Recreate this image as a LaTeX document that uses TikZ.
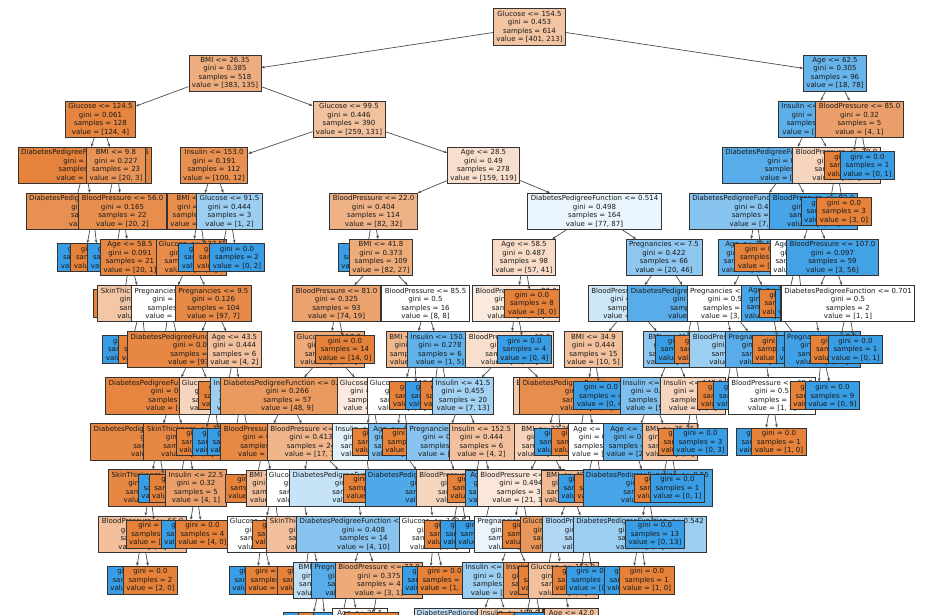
\documentclass[tikz,border=0pt]{standalone}
\usepackage{fontspec}
\setmainfont{DejaVu Sans}
\usetikzlibrary{arrows.meta}
\definecolor{cls0}{RGB}{229,129,57}
\definecolor{cls1}{RGB}{57,157,229}
\newcommand{\pure}[2]{gini = 0.0\\samples = #1\\value = [#2]}
\tikzset{
	split/.style={draw=black!80, line width=0.8pt, align=center, inner xsep=3pt, inner ysep=2.3pt, text=black!90, font=\fontsize{7}{8.5}\selectfont},
	edge/.style={draw=black!70, line width=0.7pt, -{Stealth[length=3.4pt,width=2.8pt]}},
}
\begin{document}
\begin{tikzpicture}[x=1pt, y=-1pt]
	\useasboundingbox (0,0) rectangle (936,614);
	\fill[white] (0,0) rectangle (936,614);
	\clip (0,0) rectangle (936,614);
	\node[split, fill=cls0!47] (n0) at (529.5,27) {Glucose <= 154.5\\gini = 0.453\\samples = 614\\value = [401, 213]};
	\node[split, fill=cls0!65] (n1) at (225,73.1) {BMI <= 26.35\\gini = 0.385\\samples = 518\\value = [383, 135]};
	\draw[edge] (n0) -- (n1);
	\node[split, fill=cls1!77] (n2) at (835,73.1) {Age <= 62.5\\gini = 0.305\\samples = 96\\value = [18, 78]};
	\draw[edge] (n0) -- (n2);
	\node[split, fill=cls0!97] (n3) at (100.5,119.2) {Glucose <= 124.5\\gini = 0.061\\samples = 128\\value = [124, 4]};
	\draw[edge] (n1) -- (n3);
	\node[split, fill=cls0!49] (n4) at (349,119.2) {Glucose <= 99.5\\gini = 0.446\\samples = 390\\value = [259, 131]};
	\draw[edge] (n1) -- (n4);
	\node[split, fill=cls1!82] (n5) at (811,119.2) {Insulin <= 291.5\\gini = 0.26\\samples = 91\\value = [14, 77]};
	\draw[edge] (n2) -- (n5);
	\node[split, fill=cls0!75] (n6) at (859.5,119.2) {BloodPressure <= 85.0\\gini = 0.32\\samples = 5\\value = [4, 1]};
	\draw[edge] (n2) -- (n6);
	\node[split, fill=cls0!99] (n7) at (85,165.3) {DiabetesPedigreeFunction <= 1.295\\gini = 0.019\\samples = 105\\value = [104, 1]};
	\draw[edge] (n3) -- (n7);
	\node[split, fill=cls0!85] (n8) at (116,165.3) {BMI <= 9.8\\gini = 0.227\\samples = 23\\value = [20, 3]};
	\draw[edge] (n3) -- (n8);
	\node[split, fill=cls0!88] (n9) at (214,165.3) {Insulin <= 153.0\\gini = 0.191\\samples = 112\\value = [100, 12]};
	\draw[edge] (n4) -- (n9);
	\node[split, fill=cls0!25] (n10) at (483.5,165.3) {Age <= 28.5\\gini = 0.49\\samples = 278\\value = [159, 119]};
	\draw[edge] (n4) -- (n10);
	\node[split, fill=cls1!85] (n11) at (789,165.3) {DiabetesPedigreeFunction <= 1.272\\gini = 0.223\\samples = 86\\value = [11, 75]};
	\draw[edge] (n5) -- (n11);
	\node[split, fill=cls0!33] (n12) at (836.5,165.3) {BloodPressure <= 79.0\\gini = 0.48\\samples = 5\\value = [3, 2]};
	\draw[edge] (n5) -- (n12);
	\node[split, fill=cls0] (n13) at (851.5,165.3) {\pure{4}{4, 0}};
	\draw[edge] (n6) -- (n13);
	\node[split, fill=cls1] (n14) at (867.5,165.3) {\pure{1}{0, 1}};
	\draw[edge] (n6) -- (n14);
	\node[split, fill=cls0] (n15) at (73,211.4) {\pure{96}{96, 0}};
	\draw[edge] (n7) -- (n15);
	\node[split, fill=cls0!88] (n16) at (93,211.4) {DiabetesPedigreeFunction <= 0.174\\gini = 0.198\\samples = 9\\value = [8, 1]};
	\draw[edge] (n7) -- (n16);
	\node[split, fill=cls1] (n17) at (106,211.4) {\pure{1}{0, 1}};
	\draw[edge] (n8) -- (n17);
	\node[split, fill=cls0!90] (n18) at (122.5,211.4) {BloodPressure <= 56.0\\gini = 0.165\\samples = 22\\value = [20, 2]};
	\draw[edge] (n8) -- (n18);
	\node[split, fill=cls0!90] (n19) at (199,211.4) {BMI <= 45.4\\gini = 0.167\\samples = 109\\value = [99, 10]};
	\draw[edge] (n9) -- (n19);
	\node[split, fill=cls1!50] (n20) at (229.5,211.4) {Glucose <= 91.5\\gini = 0.444\\samples = 3\\value = [1, 2]};
	\draw[edge] (n9) -- (n20);
	\node[split, fill=cls0!61] (n21) at (373.5,211.4) {BloodPressure <= 22.0\\gini = 0.404\\samples = 114\\value = [82, 32]};
	\draw[edge] (n10) -- (n21);
	\node[split, fill=cls1!11] (n22) at (594.5,211.4) {DiabetesPedigreeFunction <= 0.514\\gini = 0.498\\samples = 164\\value = [77, 87]};
	\draw[edge] (n10) -- (n22);
	\node[split, fill=cls1!61] (n23) at (756,211.4) {DiabetesPedigreeFunction <= 0.413\\gini = 0.403\\samples = 25\\value = [7, 18]};
	\draw[edge] (n11) -- (n23);
	\node[split, fill=cls1!93] (n24) at (813.5,211.4) {BloodPressure <= 92.0\\gini = 0.123\\samples = 61\\value = [4, 57]};
	\draw[edge] (n11) -- (n24);
	\node[split, fill=cls1] (n25) at (828.5,211.4) {\pure{2}{0, 2}};
	\draw[edge] (n12) -- (n25);
	\node[split, fill=cls0] (n26) at (844,211.4) {\pure{3}{3, 0}};
	\draw[edge] (n12) -- (n26);
	\node[split, fill=cls1] (n27) at (85,257.5) {\pure{1}{0, 1}};
	\draw[edge] (n16) -- (n27);
	\node[split, fill=cls0] (n28) at (98,257.5) {\pure{8}{8, 0}};
	\draw[edge] (n16) -- (n28);
	\node[split, fill=cls1] (n29) at (115,257.5) {\pure{1}{0, 1}};
	\draw[edge] (n18) -- (n29);
	\node[split, fill=cls0!95] (n30) at (130,257.5) {Age <= 58.5\\gini = 0.091\\samples = 21\\value = [20, 1]};
	\draw[edge] (n18) -- (n30);
	\node[split, fill=cls0!91] (n31) at (191,257.5) {Glucose <= 137.5\\gini = 0.153\\samples = 108\\value = [99, 9]};
	\draw[edge] (n19) -- (n31);
	\node[split, fill=cls1] (n32) at (206,257.5) {\pure{1}{0, 1}};
	\draw[edge] (n19) -- (n32);
	\node[split, fill=cls0] (n33) at (221,257.5) {\pure{1}{1, 0}};
	\draw[edge] (n20) -- (n33);
	\node[split, fill=cls1] (n34) at (237,257.5) {\pure{2}{0, 2}};
	\draw[edge] (n20) -- (n34);
	\node[split, fill=cls1] (n35) at (365.5,257.5) {\pure{5}{0, 5}};
	\draw[edge] (n21) -- (n35);
	\node[split, fill=cls0!67] (n36) at (381,257.5) {BMI <= 41.8\\gini = 0.373\\samples = 109\\value = [82, 27]};
	\draw[edge] (n21) -- (n36);
	\node[split, fill=cls0!28] (n37) at (524,257.5) {Age <= 58.5\\gini = 0.487\\samples = 98\\value = [57, 41]};
	\draw[edge] (n22) -- (n37);
	\node[split, fill=cls1!57] (n38) at (664,257.5) {Pregnancies <= 7.5\\gini = 0.422\\samples = 66\\value = [20, 46]};
	\draw[edge] (n22) -- (n38);
	\node[split, fill=cls1!78] (n39) at (748,257.5) {Age <= 29.5\\gini = 0.298\\samples = 22\\value = [4, 18]};
	\draw[edge] (n23) -- (n39);
	\node[split, fill=cls0] (n40) at (762,257.5) {\pure{3}{3, 0}};
	\draw[edge] (n23) -- (n40);
	\node[split, fill=white] (n41) at (797.5,257.5) {Age <= 44.5\\gini = 0.5\\samples = 2\\value = [1, 1]};
	\draw[edge] (n24) -- (n41);
	\node[split, fill=cls1!95] (n42) at (832.5,257.5) {BloodPressure <= 107.0\\gini = 0.097\\samples = 59\\value = [3, 56]};
	\draw[edge] (n24) -- (n42);
	\node[split, fill=cls0] (n43) at (123,303.6) {\pure{18}{18, 0}};
	\draw[edge] (n30) -- (n43);
	\node[split, fill=cls0!45] (n44) at (141.5,303.6) {SkinThickness <= 20.5\\gini = 0.444\\samples = 3\\value = [2, 1]};
	\draw[edge] (n30) -- (n44);
	\node[split, fill=white] (n45) at (169.5,303.6) {Pregnancies <= 1.5\\gini = 0.5\\samples = 4\\value = [2, 2]};
	\draw[edge] (n31) -- (n45);
	\node[split, fill=cls0!93] (n46) at (213.5,303.6) {Pregnancies <= 9.5\\gini = 0.126\\samples = 104\\value = [97, 7]};
	\draw[edge] (n31) -- (n46);
	\node[split, fill=cls0!74] (n47) at (336.5,303.6) {BloodPressure <= 81.0\\gini = 0.325\\samples = 93\\value = [74, 19]};
	\draw[edge] (n36) -- (n47);
	\node[split, fill=white] (n48) at (425.5,303.6) {BloodPressure <= 85.5\\gini = 0.5\\samples = 16\\value = [8, 8]};
	\draw[edge] (n36) -- (n48);
	\node[split, fill=cls0!16] (n49) at (516,303.6) {BloodPressure <= 83.0\\gini = 0.496\\samples = 90\\value = [49, 41]};
	\draw[edge] (n37) -- (n49);
	\node[split, fill=cls0] (n50) at (532,303.6) {\pure{8}{8, 0}};
	\draw[edge] (n37) -- (n50);
	\node[split, fill=cls1!25] (n51) at (632,303.6) {BloodPressure <= 71.0\\gini = 0.496\\samples = 35\\value = [16, 19]};
	\draw[edge] (n38) -- (n51);
	\node[split, fill=cls1!85] (n52) at (694.5,303.6) {DiabetesPedigreeFunction <= 1.105\\gini = 0.225\\samples = 31\\value = [4, 27]};
	\draw[edge] (n38) -- (n52);
	\node[split, fill=white] (n53) at (725,303.6) {Pregnancies <= 0.5\\gini = 0.5\\samples = 6\\value = [3, 3]};
	\draw[edge] (n39) -- (n53);
	\node[split, fill=cls1!93] (n54) at (771,303.6) {Age <= 36.5\\gini = 0.117\\samples = 16\\value = [1, 15]};
	\draw[edge] (n39) -- (n54);
	\node[split, fill=cls0] (n55) at (786.5,303.6) {\pure{1}{1, 0}};
	\draw[edge] (n41) -- (n55);
	\node[split, fill=cls1] (n56) at (802.5,303.6) {\pure{1}{0, 1}};
	\draw[edge] (n41) -- (n56);
	\node[split, fill=cls1!96] (n57) at (813,303.6) {Insulin <= 579.0\\gini = 0.068\\samples = 57\\value = [2, 55]};
	\draw[edge] (n42) -- (n57);
	\node[split, fill=white] (n58) at (848,303.6) {DiabetesPedigreeFunction <= 0.701\\gini = 0.5\\samples = 2\\value = [1, 1]};
	\draw[edge] (n42) -- (n58);
	\node[split, fill=cls1] (n59) at (130,349.7) {\pure{1}{0, 1}};
	\draw[edge] (n44) -- (n59);
	\node[split, fill=cls0] (n60) at (146,349.7) {\pure{2}{2, 0}};
	\draw[edge] (n44) -- (n60);
	\node[split, fill=cls0] (n61) at (163,349.7) {\pure{2}{2, 0}};
	\draw[edge] (n45) -- (n61);
	\node[split, fill=cls1] (n62) at (180,349.7) {\pure{2}{0, 2}};
	\draw[edge] (n45) -- (n62);
	\node[split, fill=cls0!95] (n63) at (194.5,349.7) {DiabetesPedigreeFunction <= 0.669\\gini = 0.097\\samples = 98\\value = [93, 5]};
	\draw[edge] (n46) -- (n63);
	\node[split, fill=cls0!50] (n64) at (234.5,349.7) {Age <= 43.5\\gini = 0.444\\samples = 6\\value = [4, 2]};
	\draw[edge] (n46) -- (n64);
	\node[split, fill=cls0!68] (n65) at (329,349.7) {Glucose <= 117.5\\gini = 0.365\\samples = 79\\value = [60, 19]};
	\draw[edge] (n47) -- (n65);
	\node[split, fill=cls0] (n66) at (345,349.7) {\pure{14}{14, 0}};
	\draw[edge] (n47) -- (n66);
	\node[split, fill=cls0!57] (n67) at (414,349.7) {BMI <= 30.85\\gini = 0.42\\samples = 10\\value = [7, 3]};
	\draw[edge] (n48) -- (n67);
	\node[split, fill=cls1!80] (n68) at (440,349.7) {Insulin <= 150.5\\gini = 0.278\\samples = 6\\value = [1, 5]};
	\draw[edge] (n48) -- (n68);
	\node[split, fill=cls0!25] (n69) at (509.5,349.7) {BloodPressure <= 69.0\\gini = 0.49\\samples = 86\\value = [49, 37]};
	\draw[edge] (n49) -- (n69);
	\node[split, fill=cls1] (n70) at (524.5,349.7) {\pure{4}{0, 4}};
	\draw[edge] (n49) -- (n70);
	\node[split, fill=cls0!50] (n71) at (593.5,349.7) {BMI <= 34.9\\gini = 0.444\\samples = 15\\value = [10, 5]};
	\draw[edge] (n51) -- (n71);
	\node[split, fill=cls1!57] (n72) at (673,349.7) {BMI <= 41.05\\gini = 0.42\\samples = 20\\value = [6, 14]};
	\draw[edge] (n51) -- (n72);
	\node[split, fill=cls1] (n73) at (685,349.7) {\pure{27}{0, 27}};
	\draw[edge] (n52) -- (n73);
	\node[split, fill=cls0] (n74) at (702,349.7) {\pure{4}{4, 0}};
	\draw[edge] (n52) -- (n74);
	\node[split, fill=cls1!50] (n75) at (733.5,349.7) {BloodPressure <= 75.0\\gini = 0.444\\samples = 3\\value = [1, 2]};
	\draw[edge] (n53) -- (n75);
	\node[split, fill=cls1!85] (n76) at (763.5,349.7) {Pregnancies <= 4.5\\gini = 0.245\\samples = 7\\value = [1, 6]};
	\draw[edge] (n53) -- (n76);
	\node[split, fill=cls0] (n77) at (779.5,349.7) {\pure{1}{1, 0}};
	\draw[edge] (n54) -- (n77);
	\node[split, fill=cls1] (n78) at (806,349.7) {\pure{14}{0, 14}};
	\draw[edge] (n54) -- (n78);
	\node[split, fill=cls1!96] (n79) at (822,349.7) {Pregnancies <= 8.5\\gini = 0.035\\samples = 56\\value = [1, 55]};
	\draw[edge] (n57) -- (n79);
	\node[split, fill=cls0] (n80) at (838,349.7) {\pure{1}{1, 0}};
	\draw[edge] (n58) -- (n80);
	\node[split, fill=cls1] (n81) at (855.5,349.7) {\pure{1}{0, 1}};
	\draw[edge] (n58) -- (n81);
	\node[split, fill=cls0!97] (n82) at (172.5,395.8) {DiabetesPedigreeFunction <= 0.128\\gini = 0.048\\samples = 41\\value = [40, 1]};
	\draw[edge] (n63) -- (n82);
	\node[split, fill=cls0!33] (n83) at (214,395.8) {Glucose <= 127.5\\gini = 0.48\\samples = 5\\value = [3, 2]};
	\draw[edge] (n63) -- (n83);
	\node[split, fill=cls0] (n84) at (226,395.8) {\pure{3}{3, 0}};
	\draw[edge] (n64) -- (n84);
	\node[split, fill=cls1!50] (n85) at (241,395.8) {Insulin <= 36.5\\gini = 0.444\\samples = 3\\value = [1, 2]};
	\draw[edge] (n64) -- (n85);
	\node[split, fill=cls0!81] (n86) at (287.5,395.8) {DiabetesPedigreeFunction <= 0.402\\gini = 0.266\\samples = 57\\value = [48, 9]};
	\draw[edge] (n65) -- (n86);
	\node[split, fill=cls0!17] (n87) at (372,395.8) {Glucose <= 110.5\\gini = 0.496\\samples = 22\\value = [12, 10]};
	\draw[edge] (n65) -- (n87);
	\node[split, fill=white] (n88) at (402,395.8) {Glucose <= 113.0\\gini = 0.5\\samples = 6\\value = [3, 3]};
	\draw[edge] (n67) -- (n88);
	\node[split, fill=cls0] (n89) at (417,395.8) {\pure{4}{4, 0}};
	\draw[edge] (n67) -- (n89);
	\node[split, fill=cls1] (n90) at (433,395.8) {\pure{5}{0, 5}};
	\draw[edge] (n68) -- (n90);
	\node[split, fill=cls0] (n91) at (448,395.8) {\pure{1}{1, 0}};
	\draw[edge] (n68) -- (n91);
	\node[split, fill=cls1!46] (n92) at (463,395.8) {Insulin <= 41.5\\gini = 0.455\\samples = 20\\value = [7, 13]};
	\draw[edge] (n69) -- (n92);
	\node[split, fill=cls0!43] (n93) at (557,395.8) {BloodPressure <= 88.0\\gini = 0.463\\samples = 66\\value = [42, 24]};
	\draw[edge] (n69) -- (n93);
	\node[split, fill=cls0!90] (n94) at (586.5,395.8) {DiabetesPedigreeFunction <= 0.226\\gini = 0.165\\samples = 11\\value = [10, 1]};
	\draw[edge] (n71) -- (n94);
	\node[split, fill=cls1] (n95) at (601,395.8) {\pure{4}{0, 4}};
	\draw[edge] (n71) -- (n95);
	\node[split, fill=cls1!64] (n96) at (652.5,395.8) {Insulin <= 165.5\\gini = 0.388\\samples = 19\\value = [5, 14]};
	\draw[edge] (n72) -- (n96);
	\node[split, fill=cls0!33] (n97) at (693,395.8) {Insulin <= 148.0\\gini = 0.48\\samples = 5\\value = [3, 2]};
	\draw[edge] (n72) -- (n97);
	\node[split, fill=cls0] (n98) at (725,395.8) {\pure{1}{1, 0}};
	\draw[edge] (n75) -- (n98);
	\node[split, fill=cls1] (n99) at (741,395.8) {\pure{2}{0, 2}};
	\draw[edge] (n75) -- (n99);
	\node[split, fill=white] (n100) at (772,395.8) {BloodPressure <= 69.0\\gini = 0.5\\samples = 2\\value = [1, 1]};
	\draw[edge] (n76) -- (n100);
	\node[split, fill=cls0] (n101) at (817.5,395.8) {\pure{1}{1, 0}};
	\draw[edge] (n79) -- (n101);
	\node[split, fill=cls1] (n102) at (832.5,395.8) {\pure{9}{0, 9}};
	\draw[edge] (n79) -- (n102);
	\node[split, fill=cls0!95] (n103) at (157.5,441.9) {DiabetesPedigreeFunction <= 0.131\\gini = 0.1\\samples = 19\\value = [18, 1]};
	\draw[edge] (n82) -- (n103);
	\node[split, fill=cls0!95] (n104) at (187.5,441.9) {SkinThickness <= 31.5\\gini = 0.087\\samples = 22\\value = [21, 1]};
	\draw[edge] (n82) -- (n104);
	\node[split, fill=cls0] (n105) at (203.5,441.9) {\pure{3}{3, 0}};
	\draw[edge] (n83) -- (n105);
	\node[split, fill=cls1] (n106) at (219.5,441.9) {\pure{2}{0, 2}};
	\draw[edge] (n83) -- (n106);
	\node[split, fill=cls1] (n107) at (234.5,441.9) {\pure{2}{0, 2}};
	\draw[edge] (n85) -- (n107);
	\node[split, fill=cls0] (n108) at (250,441.9) {\pure{1}{1, 0}};
	\draw[edge] (n85) -- (n108);
	\node[split, fill=cls0!94] (n109) at (264.5,441.9) {BloodPressure <= 67.0\\gini = 0.114\\samples = 33\\value = [31, 2]};
	\draw[edge] (n86) -- (n109);
	\node[split, fill=cls0!59] (n110) at (311,441.9) {BloodPressure <= 73.0\\gini = 0.413\\samples = 24\\value = [17, 7]};
	\draw[edge] (n86) -- (n110);
	\node[split, fill=cls1!14] (n111) at (365,441.9) {Insulin <= 105.0\\gini = 0.497\\samples = 13\\value = [6, 7]};
	\draw[edge] (n87) -- (n111);
	\node[split, fill=cls0] (n112) at (379.5,441.9) {\pure{6}{6, 0}};
	\draw[edge] (n87) -- (n112);
	\node[split, fill=cls1!67] (n113) at (396,441.9) {Age <= 41.5\\gini = 0.375\\samples = 4\\value = [1, 3]};
	\draw[edge] (n88) -- (n113);
	\node[split, fill=cls0] (n114) at (409.5,441.9) {\pure{2}{2, 0}};
	\draw[edge] (n88) -- (n114);
	\node[split, fill=cls1!60] (n115) at (444.5,441.9) {Pregnancies <= 5.5\\gini = 0.337\\samples = 14\\value = [3, 11]};
	\draw[edge] (n92) -- (n115);
	\node[split, fill=cls0!50] (n116) at (481.5,441.9) {Insulin <= 152.5\\gini = 0.444\\samples = 6\\value = [4, 2]};
	\draw[edge] (n92) -- (n116);
	\node[split, fill=cls0!35] (n117) at (546,441.9) {BMI <= 33.25\\gini = 0.48\\samples = 55\\value = [33, 22]};
	\draw[edge] (n93) -- (n117);
	\node[split, fill=cls1] (n118) at (561.5,441.9) {\pure{2}{0, 2}};
	\draw[edge] (n93) -- (n118);
	\node[split, fill=cls0] (n119) at (578.5,441.9) {\pure{9}{9, 0}};
	\draw[edge] (n94) -- (n119);
	\node[split, fill=white] (n120) at (596,441.9) {Age <= 24.5\\gini = 0.5\\samples = 2\\value = [1, 1]};
	\draw[edge] (n94) -- (n120);
	\node[split, fill=cls1!82] (n121) at (633,441.9) {Age <= 30.5\\gini = 0.26\\samples = 13\\value = [2, 11]};
	\draw[edge] (n96) -- (n121);
	\node[split, fill=cls0!50] (n122) at (670,441.9) {BMI <= 35.35\\gini = 0.444\\samples = 3\\value = [2, 1]};
	\draw[edge] (n96) -- (n122);
	\node[split, fill=cls0] (n123) at (685.5,441.9) {\pure{1}{1, 0}};
	\draw[edge] (n97) -- (n123);
	\node[split, fill=cls1] (n124) at (700.5,441.9) {\pure{3}{0, 3}};
	\draw[edge] (n97) -- (n124);
	\node[split, fill=cls1] (n125) at (763.5,441.9) {\pure{1}{0, 1}};
	\draw[edge] (n100) -- (n125);
	\node[split, fill=cls0] (n126) at (779,441.9) {\pure{1}{1, 0}};
	\draw[edge] (n100) -- (n126);
	\node[split, fill=cls0!95] (n127) at (150,488) {SkinThickness <= 7.5\\gini = 0.105\\samples = 18\\value = [17, 1]};
	\draw[edge] (n103) -- (n127);
	\node[split, fill=cls1] (n128) at (165.5,488) {\pure{1}{0, 1}};
	\draw[edge] (n103) -- (n128);
	\node[split, fill=cls0] (n129) at (178.5,488) {\pure{17}{17, 0}};
	\draw[edge] (n104) -- (n129);
	\node[split, fill=cls0!75] (n130) at (196,488) {Insulin <= 22.5\\gini = 0.32\\samples = 5\\value = [4, 1]};
	\draw[edge] (n104) -- (n130);
	\node[split, fill=cls0] (n131) at (254.5,488) {\pure{27}{27, 0}};
	\draw[edge] (n109) -- (n131);
	\node[split, fill=cls0!50] (n132) at (274,488) {BMI <= 29.05\\gini = 0.444\\samples = 6\\value = [4, 2]};
	\draw[edge] (n109) -- (n132);
	\node[split, fill=white] (n133) at (301,488) {Glucose <= 120.5\\gini = 0.5\\samples = 4\\value = [2, 2]};
	\draw[edge] (n110) -- (n133);
	\node[split, fill=cls1!29] (n134) at (356.5,488) {DiabetesPedigreeFunction <= 0.628\\gini = 0.486\\samples = 12\\value = [5, 7]};
	\draw[edge] (n110) -- (n134);
	\node[split, fill=cls0] (n135) at (370.5,488) {\pure{3}{3, 0}};
	\draw[edge] (n111) -- (n135);
	\node[split, fill=cls1!89] (n136) at (429.5,488) {DiabetesPedigreeFunction <= 1.18\\gini = 0.18\\samples = 10\\value = [1, 9]};
	\draw[edge] (n113) -- (n136);
	\node[split, fill=cls0!33] (n137) at (460,488) {BloodPressure <= 71.0\\gini = 0.48\\samples = 5\\value = [3, 2]};
	\draw[edge] (n115) -- (n137);
	\node[split, fill=cls0] (n138) at (474.5,488) {\pure{2}{2, 0}};
	\draw[edge] (n116) -- (n138);
	\node[split, fill=cls1!89] (n139) at (493,488) {Age <= 47.0\\gini = 0.18\\samples = 10\\value = [1, 9]};
	\draw[edge] (n116) -- (n139);
	\node[split, fill=cls0!19] (n140) at (521,488) {BloodPressure <= 77.0\\gini = 0.494\\samples = 38\\value = [21, 17]};
	\draw[edge] (n117) -- (n140);
	\node[split, fill=cls0!55] (n141) at (571,488) {BMI <= 40.65\\gini = 0.43\\samples = 16\\value = [11, 5]};
	\draw[edge] (n117) -- (n141);
	\node[split, fill=cls1] (n142) at (585.5,488) {\pure{1}{0, 1}};
	\draw[edge] (n120) -- (n142);
	\node[split, fill=cls0] (n143) at (601.5,488) {\pure{1}{1, 0}};
	\draw[edge] (n120) -- (n143);
	\node[split, fill=cls1!93] (n144) at (647.5,488) {DiabetesPedigreeFunction <= 0.55\\gini = 0.117\\samples = 16\\value = [1, 15]};
	\draw[edge] (n121) -- (n144);
	\node[split, fill=cls0] (n145) at (661.5,488) {\pure{2}{2, 0}};
	\draw[edge] (n122) -- (n145);
	\node[split, fill=cls1] (n146) at (677.5,488) {\pure{1}{0, 1}};
	\draw[edge] (n122) -- (n146);
	\node[split, fill=cls0!50] (n147) at (142.5,534.1) {BloodPressure <= 66.0\\gini = 0.444\\samples = 3\\value = [2, 1]};
	\draw[edge] (n127) -- (n147);
	\node[split, fill=cls0] (n148) at (155.5,534.1) {\pure{15}{15, 0}};
	\draw[edge] (n127) -- (n148);
	\node[split, fill=cls1] (n149) at (188.5,534.1) {\pure{1}{0, 1}};
	\draw[edge] (n130) -- (n149);
	\node[split, fill=cls0] (n150) at (202.5,534.1) {\pure{4}{4, 0}};
	\draw[edge] (n130) -- (n150);
	\node[split, fill=white] (n151) at (262,534.1) {Glucose <= 129.5\\gini = 0.5\\samples = 2\\value = [1, 1]};
	\draw[edge] (n132) -- (n151);
	\node[split, fill=cls0] (n152) at (279.5,534.1) {\pure{4}{4, 0}};
	\draw[edge] (n132) -- (n152);
	\node[split, fill=cls0!50] (n153) at (310.5,534.1) {SkinThickness <= 28.5\\gini = 0.444\\samples = 3\\value = [2, 1]};
	\draw[edge] (n133) -- (n153);
	\node[split, fill=cls1!60] (n154) at (363.5,534.1) {DiabetesPedigreeFunction <= 0.349\\gini = 0.408\\samples = 14\\value = [4, 10]};
	\draw[edge] (n134) -- (n154);
	\node[split, fill=white] (n155) at (434,534.1) {Glucose <= 140.5\\gini = 0.5\\samples = 2\\value = [1, 1]};
	\draw[edge] (n136) -- (n155);
	\node[split, fill=cls0] (n156) at (451.5,534.1) {\pure{1}{1, 0}};
	\draw[edge] (n137) -- (n156);
	\node[split, fill=cls1] (n157) at (467.5,534.1) {\pure{2}{0, 2}};
	\draw[edge] (n137) -- (n157);
	\node[split, fill=cls1] (n158) at (482.5,534.1) {\pure{8}{0, 8}};
	\draw[edge] (n139) -- (n158);
	\node[split, fill=cls1!11] (n159) at (512.5,534.1) {Pregnancies <= 3.5\\gini = 0.498\\samples = 17\\value = [8, 9]};
	\draw[edge] (n140) -- (n159);
	\node[split, fill=cls0] (n160) at (529.5,534.1) {\pure{4}{4, 0}};
	\draw[edge] (n140) -- (n160);
	\node[split, fill=cls0!83] (n161) at (555,534.1) {Glucose <= 146.0\\gini = 0.245\\samples = 7\\value = [6, 1]};
	\draw[edge] (n141) -- (n161);
	\node[split, fill=cls1!40] (n162) at (586.5,534.1) {BloodPressure <= 89.0\\gini = 0.469\\samples = 8\\value = [3, 5]};
	\draw[edge] (n141) -- (n162);
	\node[split, fill=cls1!50] (n163) at (640,534.1) {DiabetesPedigreeFunction <= 0.542\\gini = 0.444\\samples = 3\\value = [1, 2]};
	\draw[edge] (n144) -- (n163);
	\node[split, fill=cls1] (n164) at (655,534.1) {\pure{13}{0, 13}};
	\draw[edge] (n144) -- (n164);
	\node[split, fill=cls1] (n165) at (134.5,580.2) {\pure{1}{0, 1}};
	\draw[edge] (n147) -- (n165);
	\node[split, fill=cls0] (n166) at (150.5,580.2) {\pure{2}{2, 0}};
	\draw[edge] (n147) -- (n166);
	\node[split, fill=cls1] (n167) at (256.5,580.2) {\pure{1}{0, 1}};
	\draw[edge] (n151) -- (n167);
	\node[split, fill=cls0] (n168) at (272.5,580.2) {\pure{1}{1, 0}};
	\draw[edge] (n151) -- (n168);
	\node[split, fill=cls0] (n169) at (304.5,580.2) {\pure{2}{2, 0}};
	\draw[edge] (n153) -- (n169);
	\node[split, fill=cls1!33] (n170) at (321,580.2) {BMI <= 37.7\\gini = 0.48\\samples = 5\\value = [2, 3]};
	\draw[edge] (n153) -- (n170);
	\node[split, fill=cls1!85] (n171) at (349.5,580.2) {Pregnancies <= 2.5\\gini = 0.198\\samples = 9\\value = [1, 8]};
	\draw[edge] (n154) -- (n171);
	\node[split, fill=cls0!67] (n172) at (379,580.2) {BloodPressure <= 77.0\\gini = 0.375\\samples = 4\\value = [3, 1]};
	\draw[edge] (n154) -- (n172);
	\node[split, fill=cls1] (n173) at (429.5,580.2) {\pure{1}{0, 1}};
	\draw[edge] (n155) -- (n173);
	\node[split, fill=cls0] (n174) at (444.5,580.2) {\pure{1}{1, 0}};
	\draw[edge] (n155) -- (n174);
	\node[split, fill=cls1!50] (n175) at (495,580.2) {Insulin <= 115.0\\gini = 0.444\\samples = 3\\value = [1, 2]};
	\draw[edge] (n159) -- (n175);
	\node[split, fill=cls0!86] (n176) at (533.5,580.2) {Insulin <= 57.5\\gini = 0.219\\samples = 8\\value = [7, 1]};
	\draw[edge] (n159) -- (n176);
	\node[split, fill=cls0] (n177) at (545.5,580.2) {\pure{4}{4, 0}};
	\draw[edge] (n161) -- (n177);
	\node[split, fill=cls0!50] (n178) at (563,580.2) {Glucose <= 152.0\\gini = 0.444\\samples = 3\\value = [2, 1]};
	\draw[edge] (n161) -- (n178);
	\node[split, fill=cls0] (n179) at (579.5,580.2) {\pure{2}{2, 0}};
	\draw[edge] (n162) -- (n179);
	\node[split, fill=cls1] (n180) at (593.5,580.2) {\pure{4}{0, 4}};
	\draw[edge] (n162) -- (n180);
	\node[split, fill=cls1] (n181) at (631.5,580.2) {\pure{2}{0, 2}};
	\draw[edge] (n163) -- (n181);
	\node[split, fill=cls0] (n182) at (647,580.2) {\pure{1}{1, 0}};
	\draw[edge] (n163) -- (n182);
	\node[split, fill=cls1] (n183) at (310.5,626.3) {\pure{2}{0, 2}};
	\draw[edge] (n170) -- (n183);
	\node[split, fill=cls0] (n184) at (325.5,626.3) {\pure{1}{1, 0}};
	\draw[edge] (n170) -- (n184);
	\node[split, fill=cls1] (n185) at (340.5,626.3) {\pure{7}{0, 7}};
	\draw[edge] (n171) -- (n185);
	\node[split, fill=white] (n186) at (360,626.3) {Age <= 25.5\\gini = 0.5\\samples = 2\\value = [1, 1]};
	\draw[edge] (n171) -- (n186);
	\node[split, fill=cls0] (n187) at (371.5,626.3) {\pure{3}{3, 0}};
	\draw[edge] (n172) -- (n187);
	\node[split, fill=cls1!30] (n188) at (478.5,626.3) {DiabetesPedigreeFunction <= 0.41\\gini = 0.5\\samples = 2\\value = [1, 1]};
	\draw[edge] (n175) -- (n188);
	\node[split, fill=cls0!40] (n189) at (510,626.3) {Insulin <= 108.0\\gini = 0.5\\samples = 2\\value = [1, 1]};
	\draw[edge] (n175) -- (n189);
	\node[split, fill=cls0] (n190) at (524.5,626.3) {\pure{6}{6, 0}};
	\draw[edge] (n176) -- (n190);
	\node[split, fill=cls1] (n191) at (542,626.3) {\pure{1}{0, 1}};
	\draw[edge] (n176) -- (n191);
	\node[split, fill=cls0!50] (n192) at (571.5,626.3) {Age <= 42.0\\gini = 0.444\\samples = 3\\value = [2, 1]};
	\draw[edge] (n178) -- (n192);
\end{tikzpicture}
\end{document}
